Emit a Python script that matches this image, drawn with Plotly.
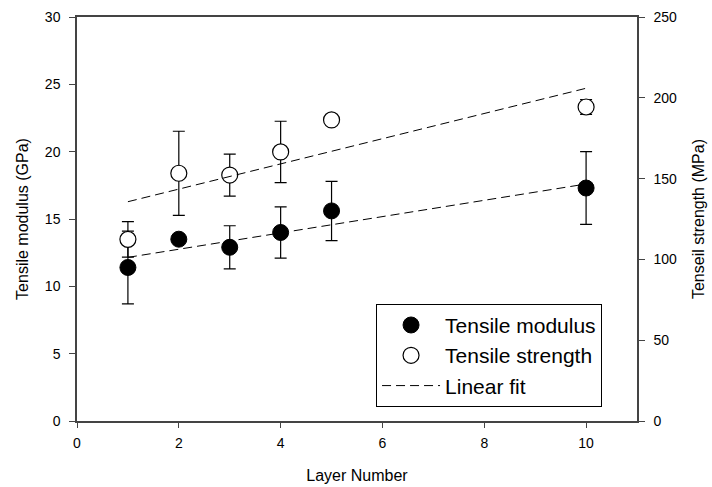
import plotly.graph_objects as go

# layer numbers
layers = [1, 2, 3, 4, 5, 10]

# tensile modulus (GPa) and its error
modulus = [11.4, 13.5, 12.9, 14.0, 15.6, 17.3]
modulus_err = [2.7, 0.3, 1.6, 1.9, 2.2, 2.7]

# tensile strength (MPa) and its error
strength = [112.4, 153.3, 152.2, 166.5, 186.3, 194.3]
strength_err = [11.0, 26.0, 13.0, 19.0, 2.0, 4.6]

# linear fit end points
fit_x = [1, 10]
fit_modulus = [12.15, 17.6]
fit_strength = [135.7, 205.9]

font = "Liberation Sans, Arial, sans-serif"
axis_col = "#444444"

fig = go.Figure()

fig.add_trace(go.Scatter(
    x=layers, y=modulus, mode="markers", name="Tensile modulus",
    marker=dict(color="black", size=16, line=dict(color="black", width=1)),
    error_y=dict(type="data", array=modulus_err, color="black", thickness=1.2, width=6),
))

fig.add_trace(go.Scatter(
    x=layers, y=strength, mode="markers", name="Tensile strength", yaxis="y2",
    marker=dict(color="white", size=16, line=dict(color="black", width=1.2)),
    error_y=dict(type="data", array=strength_err, color="black", thickness=1.2, width=6),
))

fig.add_trace(go.Scatter(
    x=fit_x, y=fit_modulus, mode="lines", name="Linear fit",
    line=dict(color="black", width=1, dash="9px,5px"),
))

fig.add_trace(go.Scatter(
    x=fit_x, y=fit_strength, mode="lines", name="Linear fit", yaxis="y2",
    line=dict(color="black", width=1, dash="9px,5px"), showlegend=False,
))

fig.update_layout(
    width=712, height=487,
    margin=dict(l=77, r=75, t=17, b=66),
    plot_bgcolor="white", paper_bgcolor="white",
    font=dict(family=font, size=14, color="black"),
    showlegend=True,
    xaxis=dict(
        range=[0, 11], tickvals=[0, 2, 4, 6, 8, 10], automargin=False,
        title=dict(text="Layer Number", font=dict(size=16), standoff=20),
        showline=True, linecolor=axis_col, linewidth=1.5, mirror=True,
        ticks="outside", ticklen=5, tickcolor=axis_col, ticklabelstandoff=3,
        showgrid=False, zeroline=False,
    ),
    yaxis=dict(
        range=[0, 30], tickvals=[0, 5, 10, 15, 20, 25, 30], automargin=False,
        title=dict(text="Tensile modulus (GPa)", font=dict(size=16), standoff=12),
        showline=True, linecolor=axis_col, linewidth=1.5,
        ticks="outside", ticklen=6, tickcolor=axis_col, ticklabelstandoff=6,
        showgrid=False, zeroline=False,
    ),
    yaxis2=dict(
        range=[0, 250], tickvals=[0, 50, 100, 150, 200, 250], automargin=False,
        title=dict(text="Tenseil strength (MPa)", font=dict(size=16), standoff=17),
        overlaying="y", side="right",
        showline=True, linecolor=axis_col, linewidth=1.5,
        ticks="outside", ticklen=6, tickcolor=axis_col, ticklabelstandoff=6,
        showgrid=False, zeroline=False,
    ),
    legend=dict(
        x=0.534, y=0.29, xanchor="left", yanchor="top",
        bgcolor="white", bordercolor="black", borderwidth=1,
        font=dict(size=21), itemwidth=58,
    ),
)

# drop the default page margin so the figure sits at the window's corner
fig.write_html("out.html", config={"displayModeBar": False},
               post_script="document.body.style.margin='0';")
